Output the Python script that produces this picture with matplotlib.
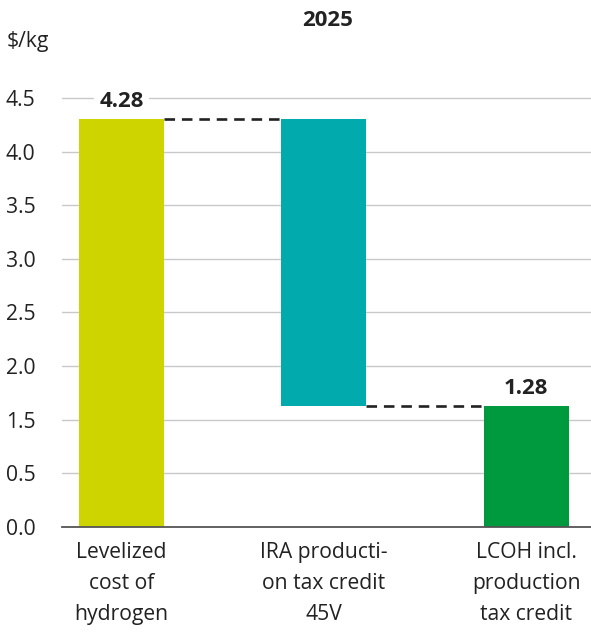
import matplotlib
matplotlib.use("Agg")
import matplotlib.pyplot as plt

plt.rcParams["font.family"] = ["Open Sans", "DejaVu Sans"]

# data (bar geometry, in axis units)
categories = ["Levelized\ncost of\nhydrogen", "IRA producti-\non tax credit\n45V", "LCOH incl.\nproduction\ntax credit"]
bar_bottoms = [0.0, 1.13, 0.0]
bar_tops = [3.80, 3.80, 1.13]
value_labels = ["4.28", None, "1.28"]
colors = ["#cdd400", "#00aaad", "#009a3e"]
tick_pos = [0.0, 0.5, 1.0, 1.5, 2.0, 2.5, 3.0, 3.5, 4.0]
tick_labels = ["0.0", "0.5", "1.5", "2.0", "2.5", "3.0", "3.5", "4.0", "4.5"]

W, H = 591, 633
fig = plt.figure(figsize=(W / 100, H / 100), dpi=100)
ax = fig.add_axes([62 / W, (H - 527) / H, 1 - 62 / W, (527 - 92.6) / H])
ax.set_xlim(-0.294, 2.32)
ax.set_ylim(0, 4.05)

txt = "#222222"
fs = 15.2
x = list(range(len(categories)))
heights = [t - b for t, b in zip(bar_tops, bar_bottoms)]
ax.bar(x, heights, bottom=bar_bottoms, width=0.42, color=colors, zorder=2)

# connectors
hw = 0.21
for i in range(len(x) - 1):
    y = bar_tops[i] if i == 0 else bar_bottoms[i]
    ax.plot([x[i] + hw, x[i + 1] - hw], [y, y], color=txt, lw=1.9,
            dashes=(4, 2.6), zorder=3)

for xi, top, lab in zip(x, bar_tops, value_labels):
    if lab:
        ax.annotate(lab, (xi, top), xytext=(0, 5), textcoords="offset points",
                    ha="center", va="bottom", fontsize=16, fontweight="bold", color=txt,
                    bbox=dict(boxstyle="square,pad=0.25", fc="white", ec="none"), zorder=4)

ax.set_yticks(tick_pos)
ax.set_yticklabels(tick_labels)
ax.set_xticks(x)
ax.set_xticklabels(categories, linespacing=1.62)
ax.tick_params(axis="y", length=0, pad=19, labelsize=fs, labelcolor=txt)
ax.tick_params(axis="x", length=0, pad=11, labelsize=fs, labelcolor=txt)
ax.grid(axis="y", color="#c8c8c8", lw=1.0, zorder=0)
ax.set_axisbelow(True)
for s in ["top", "right", "left"]:
    ax.spines[s].set_visible(False)
ax.spines["bottom"].set_color("#555555")
ax.spines["bottom"].set_linewidth(1.3)
ax.spines["bottom"].set_zorder(3)

fig.text(7 / W, 1 - 42 / H, "$/kg", fontsize=fs, color=txt, ha="left", va="center")
fig.text(328 / W, 1 - 21 / H, "2025", fontsize=16, fontweight="bold", color=txt,
         ha="center", va="center")

fig.savefig("out.png", dpi=100)
